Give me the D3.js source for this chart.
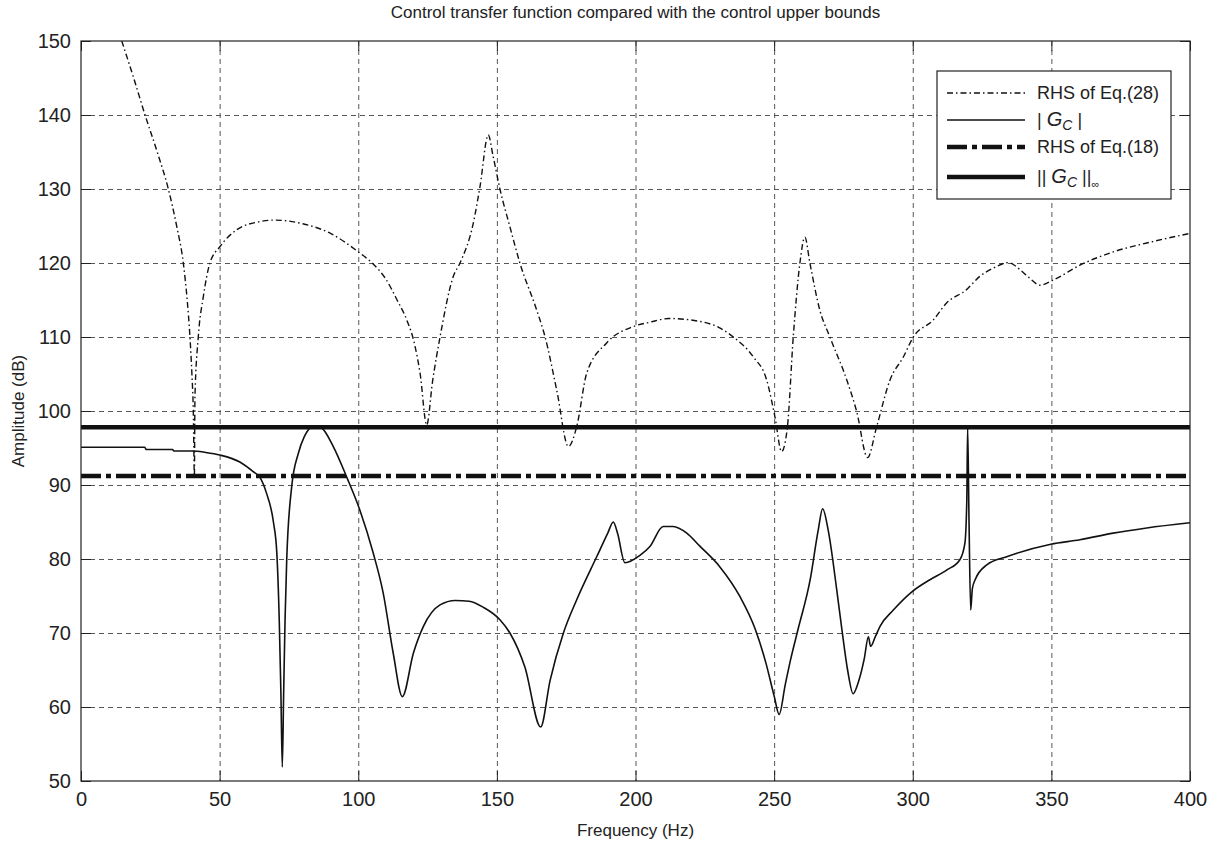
<!DOCTYPE html>
<html>
<head>
<meta charset="utf-8">
<script src="https://cdn.jsdelivr.net/npm/d3@7"></script>
<style>
  body { margin: 0; background: #fff; }
  svg { font-family: "Liberation Sans", Arial, Helvetica, sans-serif; }
  .grid line { stroke: #444; stroke-dasharray: 5,4; stroke-width: 0.9; }
  .grid path, .inner path, .labels path { display: none; }
  .inner line { stroke: #222; stroke-width: 1; }
  .labels line { display: none; }
  .labels text { font-size: 20px; fill: #222; }
</style>
</head>
<body>
<div id="chart"></div>
<script>
const W = 1224, H = 843;
const M = { top: 41, right: 34, bottom: 62, left: 81 };

const freqTicks = [0, 50, 100, 150, 200, 250, 300, 350, 400];
const dbTicks = [50, 60, 70, 80, 90, 100, 110, 120, 130, 140, 150];

// RHS of Eq.(28)
const rhs28Freq = [14.7, 19, 23.1, 27.5, 31.5, 34.5, 36.9, 38.3, 39.3, 40.0, 40.5, 40.9, 41.1, 42.3, 44.1, 46.5,
  50.1, 56.2, 64.6, 70, 80, 90, 100, 105, 110, 114, 117.5, 120, 122.3, 124.7, 126.8, 129.5, 134.3, 136.7, 141.5, 143.9,
  146.9, 148.6, 151.1, 154.7, 158.3, 164.4, 167.4, 171.6, 175.8, 178.8, 182.4, 189.6, 199.1, 205.2, 212,
  223.3, 230, 235.3, 242.5, 247.3, 250.3, 252.7, 254.8, 256.9, 259.3, 261.1, 262.9, 266.5, 270.1, 276.2,
  279.8, 283.7, 287, 291.8, 296.6, 300.2, 307.4, 312.2, 319.4, 324.2, 329, 334.5, 338.7, 342, 345.9, 350.7,
  360.3, 372.3, 384.4, 400];
const rhs28Db = [150, 145, 140, 135, 130, 125, 120, 115, 110, 105, 100.1, 91.2, 101.9, 110, 115.4, 120,
  122.2, 124.5, 125.6, 125.8, 125.3, 124, 121.5, 120, 117.8, 115, 112.3, 109.5, 105.1, 98.1, 104, 110, 118.2, 120, 125.4, 130.3,
  137.3, 134.5, 130, 124.9, 120, 113.6, 110, 102.8, 95.2, 97.9, 105.1, 109.2, 111.4, 112.0, 112.5,
  112.1, 111.3, 110, 107.3, 104.2, 99.2, 94.5, 97.9, 110, 120, 123.5, 120, 113.6, 110, 104.2,
  99.9, 93.7, 97.9, 104.2, 107.3, 110, 112.3, 114.6, 116.4, 118.2, 119.3, 120.05, 119.1, 118, 117, 117.7,
  119.7, 121.5, 122.7, 124];

// |G_C|
const gcFreq = [0, 23, 23.5, 33, 33.5, 40.4, 45, 50.1, 57.3, 62.1, 64.6, 66.9, 69.4, 70.6, 71.5, 72.1, 72.6,
  73.1, 73.6, 74.2, 76, 78.4, 80.5, 82.6, 84.4, 86.8, 91, 95.8, 100.6, 105.4, 109, 112.6, 115.9, 119.9, 123.5,
  129.5, 135, 140, 145, 151.1, 154.7, 160.1, 165.8, 169.2, 174, 178.8, 186, 190, 192, 193.5, 196.2, 201.6,
  205.2, 210, 213.6, 218.5, 223.3, 230.3, 237.7, 243.1, 247, 250, 251.8, 254, 256, 258.7, 263, 265.9, 267.5,
  269.5, 272.6, 274.4, 276.5, 278.5, 280.5, 282.5, 284, 284.8, 286.5, 288.2, 293, 299.8, 306.2, 312.2, 317,
  318.8, 319.5, 319.8, 320.3, 320.9, 321.5, 322.5, 326.7, 333.9, 349.8, 360.3, 372.3, 384.4, 400];
const gcDb = [95.1, 95.1, 94.8, 94.8, 94.6, 94.6, 94.4, 94.05, 93.1, 91.8, 91.0, 88.9, 85, 81, 71.8, 62, 51.9,
  62, 71.8, 79.9, 89.8, 94.3, 96.5, 97.7, 97.97, 97.7, 95.2, 91.1, 86.6, 80.8, 75.4, 67.3, 61.4, 67.3, 70.9,
  73.8, 74.4, 74.3, 73.5, 71.8, 70, 65.4, 57.3, 63.6, 70, 74.5, 80.3, 83.5, 85.0, 83.5, 79.5, 80.5,
  81.7, 84.4, 84.4, 83.5, 81.7, 79, 74.9, 70.6, 66, 61.5, 59, 63, 66.5, 70.6, 77.2, 83.9, 86.8,
  83.9, 75.8, 70.6, 65, 61.8, 63.5, 66.5, 69.5, 68.2, 69.5, 70.9, 73.1, 75.6, 77.2, 78.5, 79.9,
  82.1, 88, 97.8, 85, 73.1, 76, 77.2, 79.2, 80.3, 82, 82.6, 83.5, 84.2, 84.9];

// constant bounds
const rhs18Level = 91.2;
const gcInfLevel = 97.8;

const legendLabels = ['RHS of Eq.(28)', '| G_C |', 'RHS of Eq.(18)', '|| G_C ||∞'];

const innerW = W - M.left - M.right;
const innerH = H - M.top - M.bottom;

const svg = d3.select('#chart').append('svg')
  .attr('width', W).attr('height', H).attr('viewBox', `0 0 ${W} ${H}`);
const g = svg.append('g').attr('transform', `translate(${M.left},${M.top})`);

const x = d3.scaleLinear().domain([0, 400]).range([0, innerW]);
const y = d3.scaleLinear().domain([50, 150]).range([innerH, 0]);

// dashed grid
g.append('g').attr('class', 'grid')
  .call(d3.axisBottom(x).tickValues(freqTicks.slice(1, -1)).tickSize(innerH).tickFormat(''));
g.append('g').attr('class', 'grid')
  .call(d3.axisLeft(y).tickValues(dbTicks.slice(1, -1)).tickSize(-innerW).tickFormat(''));

// inward tick marks on all four sides
const tl = 10;
g.append('g').attr('class', 'inner').attr('transform', `translate(0,${innerH})`)
  .call(d3.axisBottom(x).tickValues(freqTicks).tickSize(-tl).tickFormat(''));
g.append('g').attr('class', 'inner')
  .call(d3.axisTop(x).tickValues(freqTicks).tickSize(-tl).tickFormat(''));
g.append('g').attr('class', 'inner')
  .call(d3.axisLeft(y).tickValues(dbTicks).tickSize(-tl).tickFormat(''));
g.append('g').attr('class', 'inner').attr('transform', `translate(${innerW},0)`)
  .call(d3.axisRight(y).tickValues(dbTicks).tickSize(-tl).tickFormat(''));

// tick labels
g.append('g').attr('class', 'labels').attr('transform', `translate(0,${innerH})`)
  .call(d3.axisBottom(x).tickValues(freqTicks).tickSize(0).tickPadding(11));
g.append('g').attr('class', 'labels')
  .call(d3.axisLeft(y).tickValues(dbTicks).tickSize(0).tickPadding(10));

const line = d3.line().x(d => x(d[0])).y(d => y(d[1])).curve(d3.curveMonotoneX);
svg.append('clipPath').attr('id', 'plotclip')
  .append('rect').attr('width', innerW).attr('height', innerH);

const curves = g.append('g').attr('clip-path', 'url(#plotclip)');

curves.append('path')
  .datum(d3.zip(rhs28Freq, rhs28Db))
  .attr('d', line).attr('fill', 'none').attr('stroke', '#111')
  .attr('stroke-width', 1.4).attr('stroke-dasharray', '6,3,1.5,3');

curves.append('path')
  .datum(d3.zip(gcFreq, gcDb))
  .attr('d', line).attr('fill', 'none').attr('stroke', '#111')
  .attr('stroke-width', 1.6).attr('stroke-linejoin', 'round');

curves.append('path')
  .datum([[0, rhs18Level], [400, rhs18Level]])
  .attr('d', line).attr('fill', 'none').attr('stroke', '#111')
  .attr('stroke-width', 4.5).attr('stroke-dasharray', '20,5,5,5');

curves.append('path')
  .datum([[0, gcInfLevel], [400, gcInfLevel]])
  .attr('d', line).attr('fill', 'none').attr('stroke', '#111')
  .attr('stroke-width', 4.5);

// frame
g.append('rect').attr('width', innerW).attr('height', innerH)
  .attr('fill', 'none').attr('stroke', '#222').attr('stroke-width', 1.2);

// legend
const lg = g.append('g').attr('transform', `translate(${937 - M.left},${71 - M.top})`);
lg.append('rect').attr('width', 234).attr('height', 128)
  .attr('fill', '#fff').attr('stroke', '#222').attr('stroke-width', 1.2);
const rowY = [22, 49, 76, 106];
const styles = [
  { w: 1.4, dash: '6,3,1.5,3' },
  { w: 1.6, dash: null },
  { w: 4.5, dash: '20,5,5,5' },
  { w: 4.5, dash: null }
];
legendLabels.forEach((lab, i) => {
  const row = lg.append('g').attr('transform', `translate(0,${rowY[i]})`);
  row.append('line').attr('x1', 10).attr('x2', 88)
    .attr('stroke', '#111').attr('stroke-width', styles[i].w)
    .attr('stroke-dasharray', styles[i].dash);
  const t = row.append('text').attr('x', 100).attr('dy', '0.35em')
    .attr('font-size', 18).attr('fill', '#222');
  if (lab.includes('G_C')) {
    const [pre, post] = lab.split('G_C');
    const inf = post.endsWith('∞');
    t.append('tspan').text(pre);
    t.append('tspan').attr('font-style', 'italic').attr('font-size', 20).text('G');
    t.append('tspan').attr('font-style', 'italic').attr('font-size', 14).attr('dy', 4).text('C');
    t.append('tspan').attr('dy', -4).text(inf ? post.slice(0, -1) : post);
    if (inf) t.append('tspan').attr('font-size', 11).attr('dy', 5).text('∞');
  } else {
    t.text(lab);
  }
});

// titles
svg.append('text').attr('x', M.left + innerW / 2).attr('y', 18)
  .attr('text-anchor', 'middle').attr('font-size', 17).attr('fill', '#222')
  .text('Control transfer function compared with the control upper bounds');
svg.append('text').attr('x', M.left + innerW / 2).attr('y', 836)
  .attr('text-anchor', 'middle').attr('font-size', 17).attr('fill', '#222')
  .text('Frequency (Hz)');
svg.append('text')
  .attr('transform', `translate(24,${M.top + innerH / 2}) rotate(-90)`)
  .attr('text-anchor', 'middle').attr('font-size', 17).attr('fill', '#222')
  .text('Amplitude (dB)');
</script>
</body>
</html>
